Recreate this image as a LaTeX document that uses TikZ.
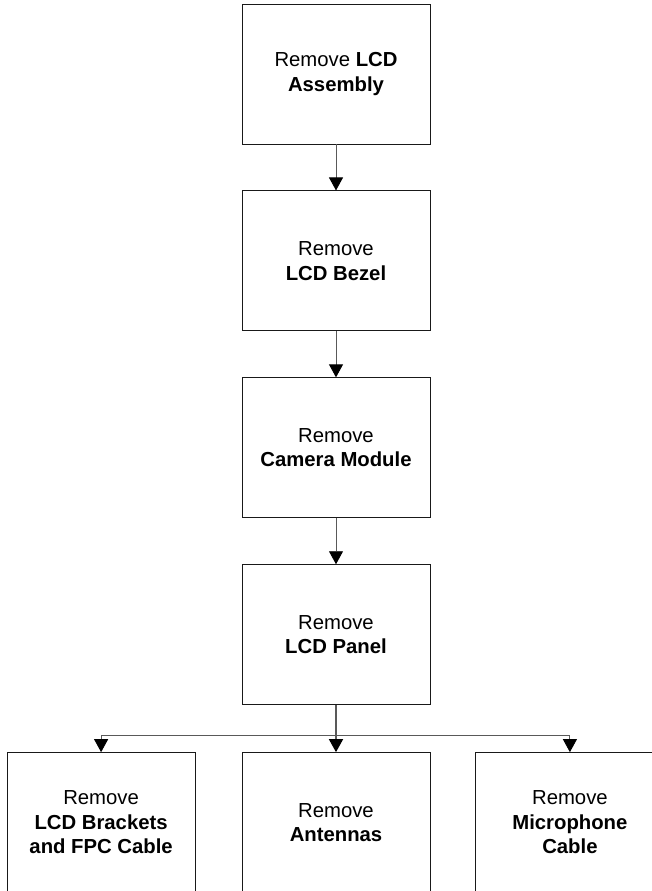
\documentclass[tikz,border=0pt]{standalone}
\usepackage{fontspec}
\setmainfont{Liberation Sans}
\usetikzlibrary{positioning,arrows.meta}

\begin{document}
\begin{tikzpicture}[x=1pt,y=-1pt,
  stepbox/.style={draw=black!90,line width=0.9pt,minimum width=188pt,minimum height=140pt,
    inner sep=0pt,align=center,font=\fontsize{20.3}{24.5}\selectfont},
  wire/.style={draw=black!65,line width=0.9pt},
  link/.style={wire,-{Triangle[length=13pt,width=14pt,color=black]}}]
 \path[use as bounding box,clip] (0,0) rectangle (652,891);
 % chain of removal steps
 \node[stepbox] (lcdasm) at (336,74) {Remove \textbf{LCD}\\\textbf{Assembly}};
 \node[stepbox,below=46pt of lcdasm] (bezel) {Remove\\\textbf{LCD Bezel}};
 \node[stepbox,below=46pt of bezel] (camera) {Remove\\\textbf{Camera Module}};
 \node[stepbox,below=46pt of camera] (panel) {Remove\\\textbf{LCD Panel}};
 % last row, cut off by the page
 \node[stepbox,below=47pt of panel] (antennas) {Remove\\\textbf{Antennas}};
 \node[stepbox,left=46pt of antennas] (brackets) {Remove\\\textbf{LCD Brackets}\\\textbf{and FPC Cable}};
 \node[stepbox,right=45pt of antennas] (mic) {Remove\\\textbf{Microphone}\\\textbf{Cable}};
 \draw[link] (lcdasm) -- (bezel);
 \draw[link] (bezel) -- (camera);
 \draw[link] (camera) -- (panel);
 \coordinate[below=30pt of panel.south] (fork);
 \draw[wire] (fork -| brackets.north) -- (fork -| mic.north);
 \draw[link,line width=1.5pt] (panel) -- (antennas);
 \draw[link] (fork -| brackets.north) -- (brackets);
 \draw[link] (fork -| mic.north) -- (mic);
\end{tikzpicture}
\end{document}
